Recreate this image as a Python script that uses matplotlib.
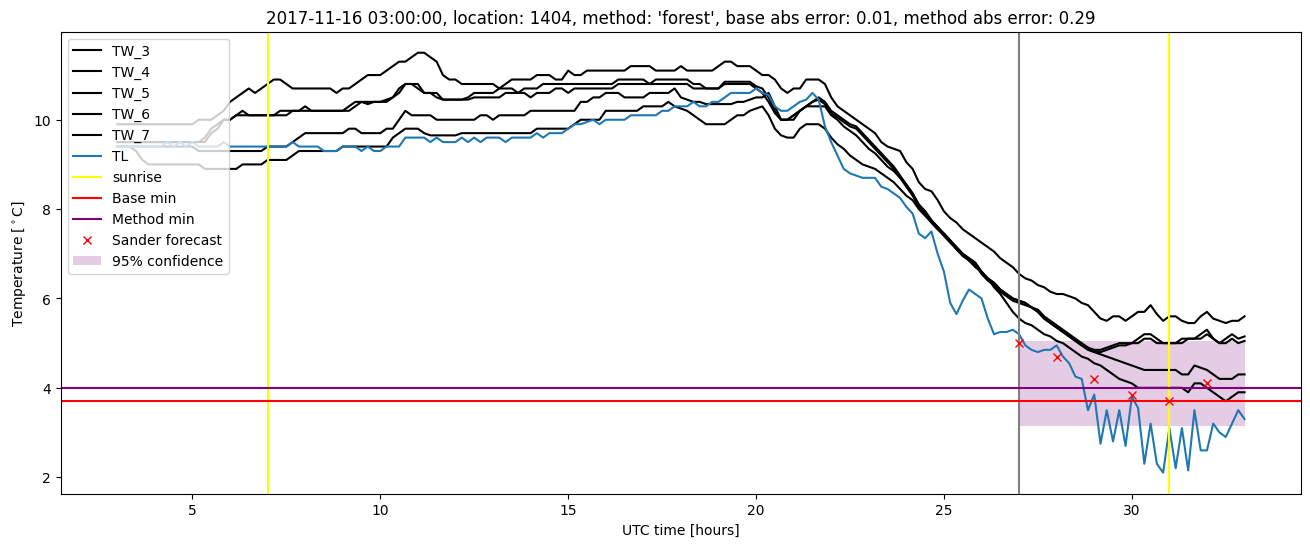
import numpy as np
import matplotlib
matplotlib.use('Agg')
import matplotlib.pyplot as plt

# 10-minute samples from 03:00 to 33:00 (hours since 2017-11-16 00 UTC)
hours = 3 + np.arange(181) / 6

tw_a = [9.9, 9.9, 9.9, 9.9, 9.9, 9.9,
        9.9, 9.9, 9.9, 9.9, 9.9, 9.9,
        9.9, 10.0, 10.0, 10.0, 10.1, 10.2,
        10.4, 10.5, 10.6, 10.7, 10.6, 10.7,
        10.8, 10.9, 10.9, 10.8, 10.7, 10.7,
        10.7, 10.7, 10.7, 10.7, 10.7, 10.6,
        10.7, 10.7, 10.8, 10.9, 11.0, 11.0,
        11.0, 11.1, 11.2, 11.3, 11.3, 11.4,
        11.5, 11.5, 11.4, 11.3, 11.0, 10.9,
        10.9, 10.8, 10.8, 10.8, 10.8, 10.8,
        10.8, 10.7, 10.8, 10.9, 10.9, 10.9,
        10.9, 11.0, 11.0, 11.0, 10.9, 10.9,
        11.1, 11.0, 11.0, 11.1, 11.1, 11.1,
        11.1, 11.1, 11.1, 11.1, 11.2, 11.2,
        11.2, 11.2, 11.1, 11.1, 11.1, 11.1,
        11.2, 11.1, 11.1, 11.1, 11.1, 11.1,
        11.2, 11.3, 11.3, 11.2, 11.2, 11.2,
        11.1, 11.0, 11.0, 10.9, 10.7, 10.6,
        10.7, 10.7, 10.9, 10.9, 10.9, 10.8,
        10.5, 10.3, 10.2, 10.1, 10.0, 9.9,
        9.8, 9.7, 9.5, 9.4, 9.35, 9.3,
        9.05, 8.9, 8.6, 8.45, 8.4, 8.2,
        7.95, 7.8, 7.7, 7.55, 7.45, 7.35,
        7.25, 7.15, 7.05, 6.9, 6.8, 6.7,
        6.55, 6.45, 6.4, 6.3, 6.25, 6.15,
        6.1, 6.1, 6.05, 6.0, 5.9, 5.85,
        5.7, 5.55, 5.5, 5.6, 5.6, 5.5,
        5.6, 5.7, 5.7, 5.85, 5.65, 5.5,
        5.6, 5.6, 5.5, 5.45, 5.45, 5.6,
        5.7, 5.55, 5.5, 5.45, 5.5, 5.5,
        5.6]

tw_b = [9.5, 9.5, 9.5, 9.5, 9.5, 9.5,
        9.5, 9.5, 9.5, 9.5, 9.5, 9.5,
        9.5, 9.5, 9.6, 9.8, 9.9, 10.0,
        10.0, 10.1, 10.2, 10.1, 10.1, 10.1,
        10.1, 10.1, 10.2, 10.2, 10.2, 10.2,
        10.3, 10.2, 10.2, 10.2, 10.2, 10.2,
        10.2, 10.3, 10.4, 10.4, 10.35, 10.4,
        10.4, 10.45, 10.5, 10.7, 10.8, 10.8,
        10.8, 10.6, 10.6, 10.6, 10.45, 10.45,
        10.45, 10.45, 10.5, 10.6, 10.6, 10.6,
        10.6, 10.7, 10.7, 10.7, 10.6, 10.7,
        10.7, 10.7, 10.8, 10.8, 10.8, 10.8,
        10.8, 10.8, 10.8, 10.8, 10.8, 10.8,
        10.8, 10.8, 10.9, 10.9, 10.9, 10.9,
        10.9, 10.8, 10.9, 10.9, 10.9, 10.9,
        10.9, 10.9, 10.8, 10.8, 10.7, 10.7,
        10.7, 10.85, 10.85, 10.85, 10.85, 10.85,
        10.75, 10.7, 10.5, 10.2, 10.0, 10.0,
        10.1, 10.2, 10.3, 10.4, 10.5, 10.4,
        10.2, 10.1, 10.0, 9.9, 9.85, 9.7,
        9.55, 9.4, 9.25, 9.1, 8.95, 8.75,
        8.55, 8.35, 8.1, 7.95, 7.75, 7.6,
        7.45, 7.3, 7.15, 7.0, 6.9, 6.8,
        6.6, 6.45, 6.35, 6.2, 6.1, 6.0,
        5.95, 5.9, 5.8, 5.75, 5.6, 5.5,
        5.4, 5.3, 5.2, 5.1, 5.0, 4.9,
        4.85, 4.85, 4.9, 4.95, 5.0, 5.0,
        5.0, 5.1, 5.2, 5.2, 5.1, 5.0,
        5.0, 5.0, 5.1, 5.1, 5.1, 5.2,
        5.3, 5.1, 5.0, 5.1, 5.2, 5.1,
        5.15]

tw_c = [9.5, 9.5, 9.5, 9.5, 9.5, 9.5,
        9.5, 9.5, 9.5, 9.5, 9.5, 9.5,
        9.5, 9.5, 9.5, 9.7, 9.8, 10.0,
        10.0, 10.1, 10.1, 10.1, 10.1, 10.1,
        10.1, 10.1, 10.1, 10.1, 10.2, 10.2,
        10.2, 10.2, 10.2, 10.2, 10.2, 10.2,
        10.2, 10.2, 10.3, 10.4, 10.4, 10.4,
        10.4, 10.4, 10.5, 10.6, 10.8, 10.8,
        10.7, 10.6, 10.6, 10.5, 10.45, 10.45,
        10.45, 10.45, 10.45, 10.5, 10.5, 10.5,
        10.5, 10.5, 10.6, 10.6, 10.6, 10.6,
        10.5, 10.6, 10.6, 10.6, 10.7, 10.7,
        10.6, 10.7, 10.7, 10.7, 10.7, 10.7,
        10.7, 10.7, 10.8, 10.8, 10.8, 10.8,
        10.8, 10.8, 10.8, 10.8, 10.8, 10.8,
        10.8, 10.8, 10.7, 10.7, 10.7, 10.7,
        10.7, 10.8, 10.8, 10.8, 10.8, 10.8,
        10.7, 10.6, 10.4, 10.15, 10.0, 10.0,
        10.1, 10.2, 10.3, 10.4, 10.45, 10.35,
        10.15, 10.05, 9.95, 9.85, 9.8, 9.65,
        9.5, 9.35, 9.2, 9.05, 8.9, 8.7,
        8.5, 8.3, 8.05, 7.9, 7.7, 7.55,
        7.4, 7.25, 7.1, 6.95, 6.85, 6.75,
        6.55, 6.4, 6.3, 6.15, 6.05, 5.95,
        5.9, 5.85, 5.8, 5.7, 5.55, 5.45,
        5.35, 5.25, 5.15, 5.05, 4.95, 4.85,
        4.8, 4.8, 4.85, 4.9, 4.95, 4.95,
        5.0, 5.0, 5.1, 5.1, 5.0, 5.0,
        5.0, 5.0, 5.0, 5.1, 5.1, 5.1,
        5.2, 5.1, 5.0, 5.0, 5.1, 5.0,
        5.05]

tw_d = [9.4, 9.4, 9.4, 9.4, 9.4, 9.4,
        9.4, 9.4, 9.4, 9.4, 9.4, 9.4,
        9.4, 9.3, 9.3, 9.3, 9.3, 9.3,
        9.3, 9.3, 9.3, 9.3, 9.3, 9.3,
        9.4, 9.4, 9.4, 9.4, 9.5, 9.6,
        9.7, 9.7, 9.7, 9.7, 9.7, 9.7,
        9.7, 9.8, 9.8, 9.7, 9.7, 9.7,
        9.7, 9.8, 9.8, 10.0, 10.2, 10.1,
        10.1, 10.1, 10.1, 10.0, 10.0, 10.0,
        10.0, 10.0, 10.0, 10.0, 10.1, 10.1,
        10.0, 10.1, 10.1, 10.1, 10.1, 10.1,
        10.2, 10.2, 10.2, 10.2, 10.2, 10.2,
        10.2, 10.2, 10.4, 10.4, 10.5, 10.5,
        10.6, 10.6, 10.6, 10.5, 10.5, 10.5,
        10.5, 10.6, 10.6, 10.6, 10.6, 10.7,
        10.5, 10.45, 10.4, 10.4, 10.35, 10.35,
        10.35, 10.35, 10.35, 10.4, 10.4, 10.45,
        10.5, 10.5, 10.6, 10.3, 10.0, 10.0,
        10.0, 10.2, 10.3, 10.3, 10.3, 10.3,
        10.1, 10.0, 9.85, 9.75, 9.65, 9.5,
        9.35, 9.25, 9.1, 8.95, 8.85, 8.7,
        8.55, 8.35, 8.1, 7.95, 7.75, 7.6,
        7.45, 7.3, 7.15, 7.0, 6.9, 6.8,
        6.6, 6.45, 6.35, 6.2, 6.1, 6.0,
        5.95, 5.9, 5.8, 5.7, 5.55, 5.45,
        5.35, 5.25, 5.15, 5.05, 4.95, 4.9,
        4.8, 4.75, 4.7, 4.65, 4.6, 4.55,
        4.5, 4.45, 4.4, 4.4, 4.4, 4.4,
        4.4, 4.4, 4.3, 4.3, 4.5, 4.45,
        4.4, 4.3, 4.2, 4.2, 4.2, 4.3,
        4.3]

tw_e = [9.4, 9.4, 9.4, 9.3, 9.1, 9.0,
        9.0, 9.0, 9.0, 9.0, 9.0, 9.0,
        9.0, 9.0, 8.9, 8.9, 8.9, 8.9,
        8.9, 8.9, 9.0, 9.0, 9.0, 9.0,
        9.1, 9.1, 9.1, 9.1, 9.2, 9.3,
        9.3, 9.3, 9.3, 9.3, 9.3, 9.3,
        9.4, 9.4, 9.4, 9.4, 9.4, 9.4,
        9.4, 9.4, 9.6, 9.7, 9.8, 9.8,
        9.8, 9.7, 9.65, 9.65, 9.65, 9.65,
        9.65, 9.7, 9.7, 9.7, 9.7, 9.7,
        9.7, 9.7, 9.7, 9.7, 9.7, 9.7,
        9.7, 9.8, 9.8, 9.8, 9.8, 9.8,
        9.8, 9.9, 10.0, 10.0, 10.0, 10.0,
        10.2, 10.2, 10.2, 10.2, 10.2, 10.2,
        10.3, 10.3, 10.3, 10.3, 10.4, 10.3,
        10.25, 10.2, 10.1, 10.0, 9.9, 9.9,
        9.9, 9.9, 10.0, 10.1, 10.1, 10.2,
        10.25, 10.3, 10.1, 9.8, 9.65, 9.6,
        9.6, 9.8, 9.9, 9.9, 9.9, 9.8,
        9.6, 9.45, 9.35, 9.2, 9.1, 9.0,
        8.95, 8.9, 8.8, 8.7, 8.6, 8.45,
        8.3, 8.2, 8.0, 7.85, 7.7, 7.55,
        7.45, 7.3, 7.1, 7.0, 6.85, 6.7,
        6.6, 6.45, 6.25, 6.1, 5.9, 5.7,
        5.55, 5.45, 5.4, 5.3, 5.2, 5.15,
        5.05, 5.0, 4.9, 4.8, 4.7, 4.65,
        4.55, 4.5, 4.4, 4.3, 4.2, 4.15,
        4.1, 4.0, 4.0, 4.0, 4.0, 4.0,
        4.0, 4.0, 4.0, 3.9, 4.1, 4.1,
        4.0, 3.9, 3.8, 3.7, 3.8, 3.9,
        3.9]

tl = [9.4, 9.4, 9.4, 9.4, 9.4, 9.4,
      9.4, 9.4, 9.5, 9.4, 9.5, 9.4,
      9.5, 9.4, 9.4, 9.4, 9.4, 9.5,
      9.4, 9.4, 9.4, 9.4, 9.4, 9.4,
      9.4, 9.4, 9.4, 9.4, 9.5, 9.4,
      9.4, 9.4, 9.4, 9.3, 9.3, 9.3,
      9.4, 9.4, 9.4, 9.3, 9.4, 9.3,
      9.3, 9.4, 9.4, 9.4, 9.6, 9.6,
      9.6, 9.6, 9.5, 9.6, 9.5, 9.5,
      9.5, 9.6, 9.5, 9.6, 9.5, 9.6,
      9.6, 9.6, 9.5, 9.6, 9.6, 9.6,
      9.6, 9.7, 9.6, 9.7, 9.7, 9.7,
      9.8, 9.9, 9.9, 9.95, 10.0, 9.9,
      10.0, 10.0, 10.0, 10.0, 10.1, 10.1,
      10.1, 10.1, 10.1, 10.2, 10.2, 10.3,
      10.3, 10.3, 10.4, 10.3, 10.3, 10.4,
      10.4, 10.5, 10.6, 10.6, 10.6, 10.6,
      10.7, 10.6, 10.55, 10.3, 10.2, 10.2,
      10.3, 10.4, 10.45, 10.6, 10.45, 9.85,
      9.5, 9.2, 8.9, 8.8, 8.75, 8.7,
      8.7, 8.7, 8.5, 8.45, 8.35, 8.25,
      8.05, 7.9, 7.45, 7.35, 7.5, 7.0,
      6.6, 5.9, 5.65, 5.95, 6.2, 6.1,
      6.0, 5.55, 5.2, 5.25, 5.25, 5.3,
      5.2, 4.95, 4.85, 4.8, 4.85, 4.85,
      4.95, 4.7, 4.55, 4.25, 4.2, 3.5,
      3.85, 2.75, 3.5, 2.8, 3.5, 2.7,
      3.8, 3.55, 2.3, 3.2, 2.3, 2.1,
      3.1, 2.2, 3.1, 2.15, 3.5, 2.6,
      2.6, 3.2, 3.0, 2.9, 3.2, 3.5,
      3.3]

tw_names = ['TW_3', 'TW_4', 'TW_5', 'TW_6', 'TW_7']
tw_series = [tw_a, tw_b, tw_c, tw_d, tw_e]

sunrise = [7, 31]
forecast_start = 27
base_min = 3.7
method_min = 4.0
forecast_hours = [27, 28, 29, 30, 31, 32]
sander = [5.0, 4.7, 4.2, 3.85, 3.7, 4.1]
conf_hours = [27, 33]
conf_low = 3.15
conf_high = 5.05

title = ("2017-11-16 03:00:00, location: 1404, method: 'forest', "
         "base abs error: 0.01, method abs error: 0.29")

fig, ax = plt.subplots(figsize=(16, 6))
for name, vals in zip(tw_names, tw_series):
    ax.plot(hours, vals, color='black', label=name)
ax.plot(hours, tl, color='tab:blue', label='TL')
ax.axvline(sunrise[0], color='yellow', label='sunrise')
ax.axvline(sunrise[1], color='yellow')
ax.axvline(forecast_start, color='gray')
ax.axhline(base_min, color='red', label='Base min')
ax.axhline(method_min, color='purple', label='Method min')
ax.plot(forecast_hours, sander, 'x', color='red', label='Sander forecast')
ax.fill_between(conf_hours, conf_low, conf_high, color='purple', alpha=0.2,
                linewidth=0, label='95% confidence')

ax.set_title(title)
ax.set_xlabel('UTC time [hours]')
ax.set_ylabel(r'Temperature [$^\circ$C]')
ax.legend(loc='upper left')
plt.savefig('out.png', bbox_inches='tight')
plt.close()
